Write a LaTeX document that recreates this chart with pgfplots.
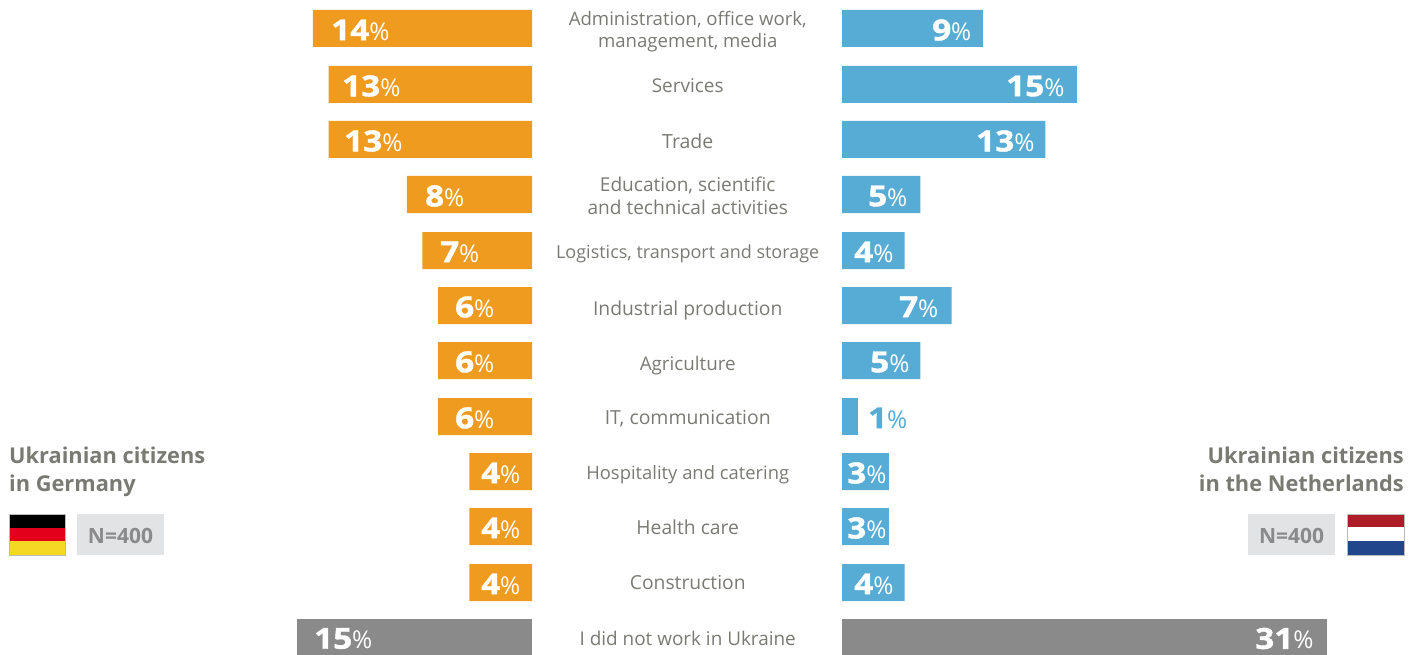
\documentclass[border=0pt]{standalone}
\usepackage{fontspec}
\setmainfont{Open Sans}
\newfontfamily\numfont[BoldFeatures={FakeBold=1.4,FakeStretch=1.15}]{Open Sans}
\usepackage{pgfplots}
\usepackage{pgfplotstable}
\pgfplotsset{compat=1.18}

\definecolor{orng}{HTML}{EF9B20}
\definecolor{blu}{HTML}{56ACD4}
\definecolor{gry}{HTML}{8A8A8A}
\definecolor{txt}{HTML}{7A7A75}
\definecolor{nbox}{HTML}{E2E3E5}
\definecolor{dered}{HTML}{E2001A}
\definecolor{deyel}{HTML}{F5D823}
\definecolor{nlred}{HTML}{AE1C28}
\definecolor{nlblu}{HTML}{21468B}
\definecolor{flagedge}{HTML}{BBBBBB}

% row = centre of the bar from the top, lx = where the label starts, in %
\pgfplotstableread{
row val lx
28.5 14 12.84
84.5 13 12.14
139.5 13 12.01
194.5 8 6.84
250.5 7 5.88
305.5 6 4.92
360.5 6 4.92
416.5 6 4.92
471.5 4 3.26
526.5 4 3.26
582.5 4 3.26
}\germany
\pgfplotstableread{
row val lx
637 15 13.93
}\germanyno
\pgfplotstableread{
row val lx
28.5 9 5.75
84.5 15 10.48
139.5 13 8.56
194.5 5 1.66
250.5 4 0.77
305.5 7 3.64
360.5 5 1.79
471.5 3 0.32
526.5 3 0.32
582.5 4 0.77
}\netherlands
\pgfplotstableread{
row val lx
416.5 1 1.66
}\netherlandsone
\pgfplotstableread{
row val lx
637 31 26.39
}\netherlandsno

\newcommand{\vallabel}[1]{{\fontsize{29}{29}\selectfont\numfont\bfseries #1}{\fontsize{24.5}{24.5}\selectfont\%}}
% the category names are not all set at one size in the reference
\newcommand{\lab}[1]{\fontsize{#1}{22}\selectfont}

\pgfplotsset{
  sidebars/.style={
    xbar, bar width=37pt, bar shift=0pt,
    scale only axis, height=655pt,
    y dir=reverse, ymin=0, ymax=655, xmin=0,
    xtick=\empty, axis line style={draw=none},
    tick style={draw=none},
  },
  vals/.style={
    only marks, mark=none, point meta=explicit symbolic,
    nodes near coords={\vallabel{\pgfplotspointmeta}},
    every node near coord/.style={anchor=west, inner sep=0pt, text=#1, yshift=-1.5pt},
  },
}

\begin{document}
\begin{tikzpicture}[x=1pt,y=1pt]
\path[use as bounding box] (0,0) rectangle (1420,655);

% Germany
\begin{axis}[sidebars, at={(0,0)}, anchor=south west, width=532pt,
  x dir=reverse, xmax=33.99, ytick=\empty]
  \addplot[fill=orng, draw=none] table[x=val, y=row] {\germany};
  \addplot[fill=gry, draw=none] table[x=val, y=row] {\germanyno};
  \addplot[vals=white] table[x=lx, y=row, meta=val] {\germany};
  \addplot[vals=white] table[x=lx, y=row, meta=val] {\germanyno};
\end{axis}

% Netherlands, category names hang off its left edge
\begin{axis}[sidebars, at={(842pt,0)}, anchor=south west, width=578pt,
  xmax=36.93,
  ytick={31.5,85.5,141.5,196,253.5,310.5,365.5,418.5,474.5,527.5,582.5,638},
  yticklabels={{\lab{18.6}Administration, office work,\\[4pt]\lab{18.6}management, media},
    {\lab{19}Services},{\lab{19.5}Trade},
    {\lab{19.1}Education, scientific\\[5pt]\lab{19.1}and technical activities},
    {\lab{18}Logistics, transport and storage},
    {\lab{19.3}Industrial production},{\lab{18.8}Agriculture},
    {\lab{19.4}IT, communication},{\lab{18.4}Hospitality and catering},
    {\lab{19.3}Health care},{\lab{19.3}Construction},
    {\lab{18.9}I did not work in Ukraine}},
  yticklabel style={align=center, anchor=center, xshift=-150pt, text=txt},
  ]
  \addplot[fill=blu, draw=none] table[x=val, y=row] {\netherlands};
  \addplot[fill=blu, draw=none] table[x=val, y=row] {\netherlandsone};
  \addplot[fill=gry, draw=none] table[x=val, y=row] {\netherlandsno};
  \addplot[vals=white] table[x=lx, y=row, meta=val] {\netherlands};
  \addplot[vals=blu] table[x=lx, y=row, meta=val] {\netherlandsone};
  \addplot[vals=white] table[x=lx, y=row, meta=val] {\netherlandsno};
\end{axis}

% side titles
\node[anchor=north west, align=left, inner sep=0pt, text=txt, font=\fontsize{21.8}{28}\selectfont\bfseries]
  at (9,208.5) {Ukrainian citizens\\in Germany};
\node[anchor=north east, align=right, inner sep=0pt, text=txt, font=\fontsize{21.8}{28}\selectfont\bfseries]
  at (1404,208.5) {Ukrainian citizens\\in the Netherlands};

% Germany flag and N box
\fill[black] (9,141) rectangle (65,127);
\fill[dered] (9,127) rectangle (65,113.5);
\fill[deyel] (9,113.5) rectangle (65,100);
\draw[flagedge, line width=0.7pt] (9,141) rectangle (65,100);
\fill[nbox] (77,141) rectangle (164,100);
\node[text=gry, font=\fontsize{21}{21}\selectfont\bfseries] at (120.5,119) {N=400};

% Netherlands flag and N box
\fill[nlred] (1347,141) rectangle (1404,127.5);
\fill[white] (1347,127.5) rectangle (1404,114);
\fill[nlblu] (1347,114) rectangle (1404,100);
\draw[flagedge, line width=0.7pt] (1347,141) rectangle (1404,100);
\fill[nbox] (1248,141) rectangle (1335,100);
\node[text=gry, font=\fontsize{21}{21}\selectfont\bfseries] at (1291.5,119) {N=400};
\end{tikzpicture}
\end{document}
